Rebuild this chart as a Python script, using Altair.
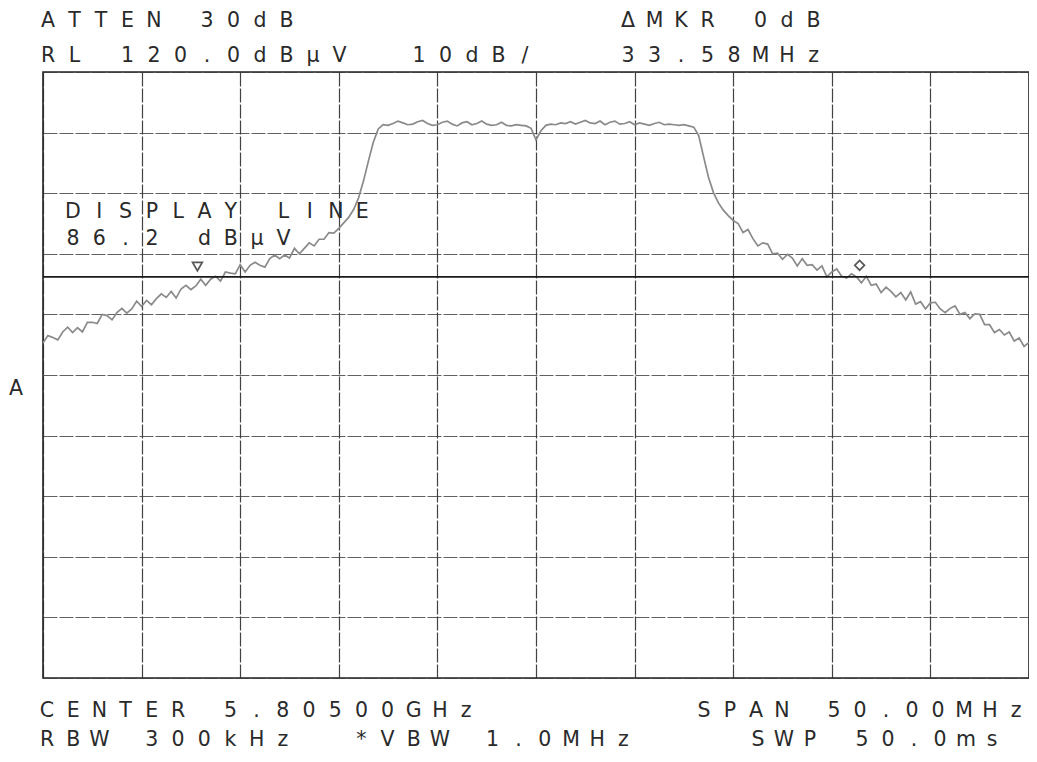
import altair as alt
import pandas as pd

# ---------------- data ----------------
START_MHZ = 5780.0          # CENTER 5.805 GHz, SPAN 50 MHz
STEP_MHZ = 0.25             # sweep point spacing used for the estimate
LEVEL_DBUV = [
    75.3, 76.5, 76.2, 75.8, 77.1, 77.9, 77.0, 77.8, 77.1, 78.7,
    78.7, 78.5, 80.0, 79.8, 79.1, 80.3, 81.0, 80.2, 80.9, 82.2,
    81.3, 82.3, 81.6, 82.6, 83.4, 82.8, 83.8, 82.7, 84.2, 84.8,
    84.1, 84.7, 85.8, 84.8, 85.8, 86.3, 85.5, 87.0, 86.8, 86.7,
    88.2, 87.0, 88.1, 88.6, 88.1, 87.8, 89.2, 89.8, 89.2, 89.8,
    89.3, 90.9, 90.0, 90.9, 91.8, 91.3, 92.4, 92.4, 93.5, 93.4,
    94.2, 95.1, 96.0, 97.3, 99.2, 102.0, 105.3, 108.4, 110.6, 111.3,
    111.2, 111.5, 111.9, 111.6, 111.3, 111.4, 111.8, 112.0, 111.5, 111.2,
    111.3, 111.7, 111.9, 111.4, 111.1, 111.6, 111.8, 111.3, 111.5, 111.9,
    111.4, 111.2, 111.3, 111.7, 111.2, 111.1, 111.3, 111.2, 111.1, 110.7,
    108.8, 110.3, 111.2, 111.4, 111.3, 111.6, 111.5, 111.8, 111.4, 111.7,
    112.0, 111.6, 111.5, 111.9, 111.3, 111.7, 111.9, 111.4, 111.5, 111.8,
    111.3, 111.6, 111.4, 111.2, 111.5, 111.7, 111.3, 111.4, 111.3, 111.2,
    111.3, 111.1, 110.9, 109.5, 106.0, 102.6, 100.1, 98.4, 97.2, 96.3,
    95.5, 95.0, 93.5, 94.0, 92.5, 91.3, 91.8, 91.6, 90.0, 90.1,
    89.1, 89.9, 89.3, 88.0, 89.2, 88.1, 88.2, 87.3, 88.0, 86.2,
    87.0, 87.5, 86.3, 86.0, 86.7, 86.2, 85.2, 86.3, 84.8, 85.0,
    83.6, 84.5, 83.8, 82.9, 83.6, 82.4, 83.7, 81.7, 82.1, 80.9,
    81.9, 82.0, 80.9, 80.3, 81.0, 81.4, 80.0, 80.3, 79.3, 80.1,
    80.0, 78.3, 78.3, 77.0, 77.5, 76.6, 77.1, 75.6, 76.1, 74.7,
    75.4,
]
FREQ_MHZ = [START_MHZ + STEP_MHZ * i for i in range(len(LEVEL_DBUV))]

X_TICKS = [5780, 5785, 5790, 5795, 5800, 5805, 5810, 5815, 5820, 5825, 5830]
Y_TICKS = [20, 30, 40, 50, 60, 70, 80, 90, 100, 110, 120]

DISPLAY_LINE = [86.2]
MARKER_FREQ = [5787.83, 5821.41]
MARKER_LEVEL = [87.9, 88.1]
MARKER_SHAPE = ["triangle-down", "diamond"]

TEXT_LINES = [
    "ATTEN 30dB",
    "RL 120.0dB\u03bcV  10dB/",
    "\u0394MKR 0dB",
    "33.58MHz",
    "DISPLAY LINE",
    "86.2 dB\u03bcV",
    "CENTER 5.80500GHz",
    "RBW 300kHz  *VBW 1.0MHz",
    "SPAN 50.00MHz",
    "SWP 50.0ms",
    "A",
]

# ---------------- layout (pixels) ----------------
PLOT_W, PLOT_H = 986, 606
ORIGIN_X, ORIGIN_Y = 43, 72        # page position of the plot's top-left corner
TEXT_POS = [  # (left x, baseline y, char pitch) in page pixels
    (38, 27, 26.5),
    (38, 62, 26.5),
    (618, 27, 26.5),
    (618, 62, 26.5),
    (63, 218, 26.3),
    (63, 245, 26.3),
    (37, 717, 26.2),
    (37, 746, 26.2),
    (694, 717, 26.0),
    (748, 746, 26.0),
    (6, 395, 16.0),
]

rows = []
for text, (x0, yb, pitch) in zip(TEXT_LINES, TEXT_POS):
    for i, ch in enumerate(text):
        if ch == " ":
            continue
        rows.append({"ch": ch, "px": x0 + i * pitch + 10 - ORIGIN_X, "py": yb - ORIGIN_Y})
text_df = pd.DataFrame(rows)

trace_df = pd.DataFrame({"freq": FREQ_MHZ, "level": LEVEL_DBUV})
marker_df = pd.DataFrame({"freq": MARKER_FREQ, "level": MARKER_LEVEL, "shape": MARKER_SHAPE})
dl_df = pd.DataFrame({"level": DISPLAY_LINE})

x_scale = alt.Scale(domain=[X_TICKS[0], X_TICKS[-1]], nice=False, zero=False)
y_scale = alt.Scale(domain=[Y_TICKS[0], Y_TICKS[-1]], nice=False, zero=False)
grid_axis_x = alt.Axis(values=X_TICKS, grid=True, labels=False, ticks=False,
                       domain=False, title=None, gridColor="#2e2e2e",
                       gridWidth=1.2, gridDash=[14, 2], gridOpacity=0.9)
grid_axis_y = alt.Axis(values=Y_TICKS, grid=True, labels=False, ticks=False,
                       domain=False, title=None, gridColor="#3a3a3a",
                       gridWidth=1.0, gridDash=[14, 2], gridOpacity=0.8)

trace = alt.Chart(trace_df).mark_line(color="#8a8a8a", strokeWidth=1.7).encode(
    x=alt.X("freq:Q", scale=x_scale, axis=grid_axis_x),
    y=alt.Y("level:Q", scale=y_scale, axis=grid_axis_y),
)

display_line = alt.Chart(dl_df).mark_rule(color="#1a1a1a", strokeWidth=1.6).encode(
    y=alt.Y("level:Q", scale=y_scale),
)

markers = alt.Chart(marker_df).mark_point(filled=False, color="#111111",
                                          strokeWidth=1.7, size=95).encode(
    x=alt.X("freq:Q", scale=x_scale),
    y=alt.Y("level:Q", scale=y_scale),
    shape=alt.Shape("shape:N", scale=None, legend=None),
)

texts = alt.Chart(text_df).mark_text(
    font="DejaVu Sans", fontSize=20.5, color="#2a2a2a", align="center",
    baseline="alphabetic",
).encode(
    x=alt.X("px:Q", scale=None, axis=None),
    y=alt.Y("py:Q", scale=None, axis=None),
    text="ch:N",
)

data_layers = alt.layer(trace, display_line, markers)

chart = alt.layer(data_layers, texts).resolve_scale(
    x="independent", y="independent"
).properties(
    width=PLOT_W,
    height=PLOT_H,
    autosize=alt.AutoSizeParams(type="none"),
    padding={"left": ORIGIN_X - 8, "top": ORIGIN_Y - 8, "right": 0, "bottom": 75},
    background="white",
).configure_view(
    stroke="#222222", strokeWidth=1.6,
)

chart.save("out.html", embed_options={"renderer": "svg", "actions": False})
